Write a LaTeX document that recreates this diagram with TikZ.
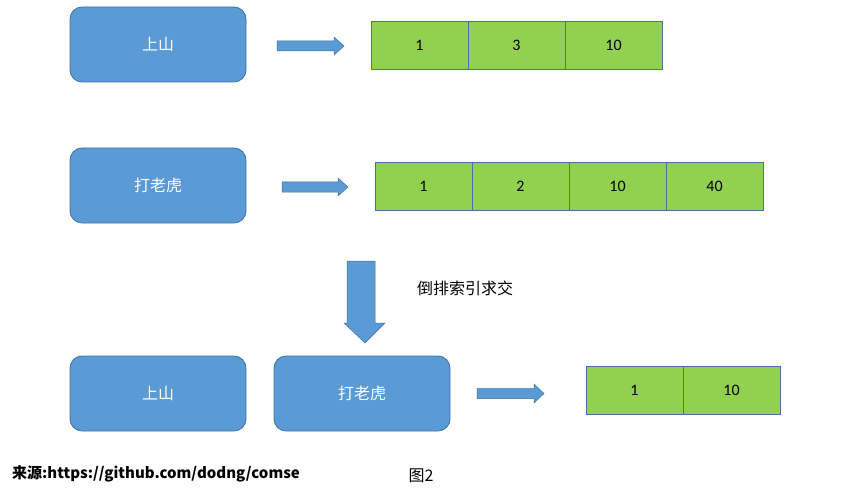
\documentclass[tikz,border=0pt]{standalone}
\usepackage{fontspec}
\setmainfont{Carlito}
\newfontfamily\cjk{Noto Sans CJK SC}
\definecolor{boxblue}{HTML}{5B9BD5}
\definecolor{boxline}{HTML}{41719C}
\definecolor{cellgreen}{HTML}{92D050}
\definecolor{cellline}{HTML}{4A6FA8}
\begin{document}
\begin{tikzpicture}[x=1pt,y=-1pt]
\useasboundingbox (0,0) rectangle (849,492);
\tikzset{
 bluebox/.style={draw=boxline, fill=boxblue, rounded corners=12pt, minimum width=176pt, minimum height=75pt, inner sep=0pt, text=white, font=\cjk\fontsize{16}{16}\selectfont, line width=0.8pt},
 cell/.style={draw=cellline, fill=cellgreen, minimum width=97pt, minimum height=48pt, inner sep=0pt, font=\fontsize{16}{16}\selectfont, line width=0.8pt},
 blockarrow/.style={fill=boxblue, draw=boxline, line width=0.5pt}
}
% blue boxes
\node[bluebox] (b1) at (158,44.5) {上山};
\node[bluebox] (b2) at (158,185.5) {打老虎};
\node[bluebox] (b3) at (158,393.5) {上山};
\node[bluebox] (b4) at (362,393.5) {打老虎};
% row 1 cells
\node[cell] (r1a) at (419.5,45) {1};
\node[cell] (r1b) at (516.5,45) {3};
\node[cell] (r1c) at (613.5,45) {10};
% row 2 cells
\node[cell] (r2a) at (423.5,186) {1};
\node[cell] (r2b) at (520.5,186) {2};
\node[cell] (r2c) at (617.5,186) {10};
\node[cell] (r2d) at (714.5,186) {40};
% row 3 cells
\node[cell] (r3a) at (634.5,390) {1};
\node[cell] (r3b) at (731.5,390) {10};
% block arrows
\draw[blockarrow] (277,41)--(334,41)--(334,37)--(344,46)--(334,55)--(334,51)--(277,51)--cycle;
\draw[blockarrow] (282,182)--(338,182)--(338,178)--(348,187)--(338,196)--(338,192)--(282,192)--cycle;
\draw[blockarrow] (477,388.5)--(534,388.5)--(534,384)--(544,393.5)--(534,403)--(534,398.5)--(477,398.5)--cycle;
\draw[blockarrow] (347,261)--(375,261)--(375,323)--(385,323)--(365,343)--(344,323)--(347,323)--cycle;
% texts
\node[font=\cjk\fontsize{16}{16}\selectfont] (lbl) at (465,288) {倒排索引求交};
\node[anchor=west, inner sep=0pt, font=\cjk\bfseries\fontsize{15}{15}\selectfont] (src) at (12,474) {来源:https://github.com/dodng/comse};
\node[font=\cjk\fontsize{16}{16}\selectfont] (fig) at (421,476) {图2};
\end{tikzpicture}
\end{document}
